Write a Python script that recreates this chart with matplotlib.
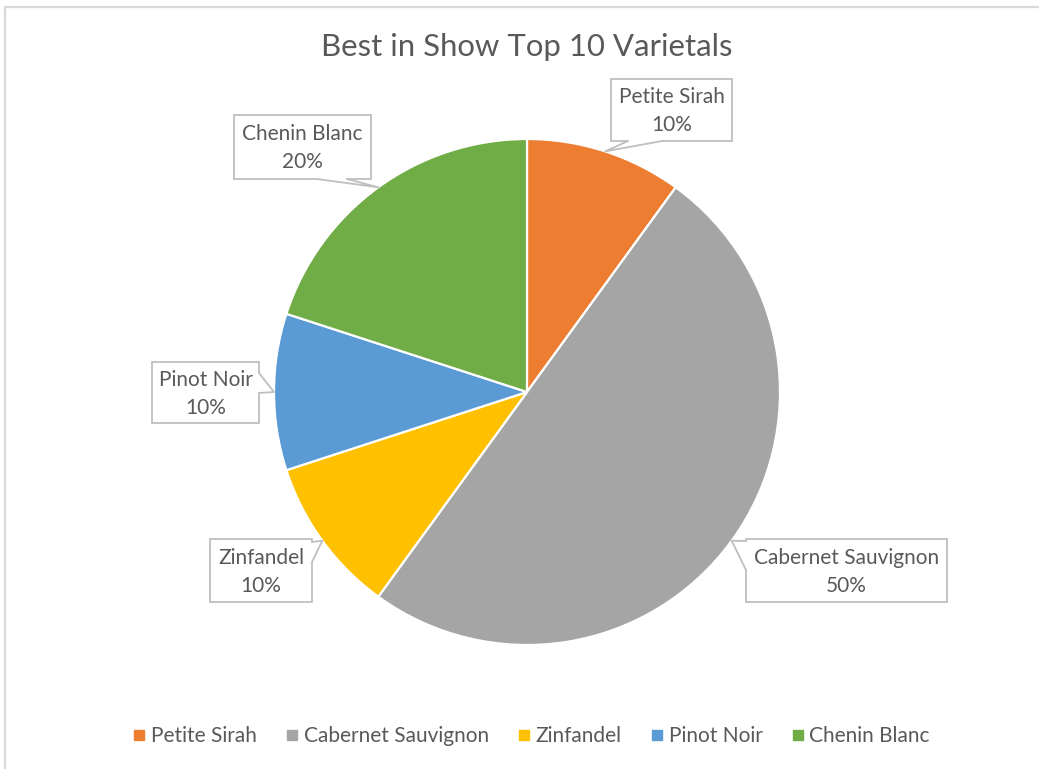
import matplotlib.pyplot as plt
from matplotlib.lines import Line2D
from matplotlib.patches import Rectangle, Polygon
import numpy as np

varietals = ["Petite Sirah", "Cabernet Sauvignon", "Zinfandel", "Pinot Noir", "Chenin Blanc"]
shares = [10, 50, 10, 10, 20]
colors = ["#ED7D31", "#A5A5A5", "#FFC000", "#5B9BD5", "#70AD47"]

W, H = 1039, 769
plt.rcParams['font.family'] = ['Lato', 'DejaVu Sans']
txt = '#595959'
edge = '#BFBFBF'

fig = plt.figure(figsize=(W / 100, H / 100), dpi=100)
ax = fig.add_axes([0, 0, 1, 1])

# pie centre / radius in pixels (image y goes down)
cx, cy, r = 527, 392, 253
wedges, _ = ax.pie(shares, colors=colors, startangle=90, counterclock=False,
                   center=(cx, H - cy), radius=r,
                   wedgeprops=dict(edgecolor='white', linewidth=1.6))
ax.set_xlim(0, W)
ax.set_ylim(0, H)
ax.axis('off')

# callout boxes: x0, y0, x1, y1, side of pointer, pointer base span
boxes = [
    (611, 79, 732, 141, 'bottom', (628, 662)),
    (746, 539, 947, 602, 'left', (541, 570)),
    (210, 539, 312, 602, 'right', (542, 562)),
    (152, 362, 259, 423, 'right', (373, 393)),
    (234, 115, 371, 179, 'bottom', (317, 347)),
]

for w, lab, val, b in zip(wedges, varietals, shares, boxes):
    x0, y0, x1, y1, side, (a, c) = b
    ang = np.deg2rad((w.theta1 + w.theta2) / 2)
    tip = (cx + r * np.cos(ang), H - cy + r * np.sin(ang))
    ax.add_patch(Rectangle((x0, H - y1), x1 - x0, y1 - y0, fc='white', ec=edge, lw=1.3, zorder=3))
    if side == 'bottom':
        p1, p2 = (a, H - y1), (c, H - y1)
        q1, q2 = (a, H - y1 + 3), (c, H - y1 + 3)
    elif side == 'left':
        p1, p2 = (x0, H - a), (x0, H - c)
        q1, q2 = (x0 + 3, H - a), (x0 + 3, H - c)
    else:
        p1, p2 = (x1, H - a), (x1, H - c)
        q1, q2 = (x1 - 3, H - a), (x1 - 3, H - c)
    ax.add_patch(Polygon([q1, p1, tip, p2, q2], closed=True, fc='white', ec='none', zorder=4))
    ax.plot([p1[0], tip[0], p2[0]], [p1[1], tip[1], p2[1]], color=edge, lw=1.3, zorder=5)
    ax.text((x0 + x1) / 2, H - (y0 + y1) / 2 - 1, f"{lab}\n{val}%", ha='center', va='center',
            color=txt, fontsize=15, linespacing=1.5, zorder=6)

fig.text(527 / W, 1 - 47 / H, "Best in Show Top 10 Varietals", ha='center', va='center',
         color=txt, fontsize=22.4)

handles = [Line2D([], [], ls='none', marker='s', markersize=6.5, color=c) for c in colors]
fig.legend(handles, varietals, loc='center', bbox_to_anchor=(532 / W, 1 - 736 / H), ncol=5,
           frameon=False, fontsize=15, labelcolor=txt, handlelength=0.5, handletextpad=0.3,
           columnspacing=1.45)

# chart area border (top and left visible)
fig.add_artist(Line2D([4.5 / W, 1], [1 - 6.5 / H, 1 - 6.5 / H], color='#D9D9D9', lw=1.6))
fig.add_artist(Line2D([4.5 / W, 4.5 / W], [0, 1 - 6.5 / H], color='#D9D9D9', lw=1.6))

fig.savefig('out.png', dpi=100, facecolor='white')
